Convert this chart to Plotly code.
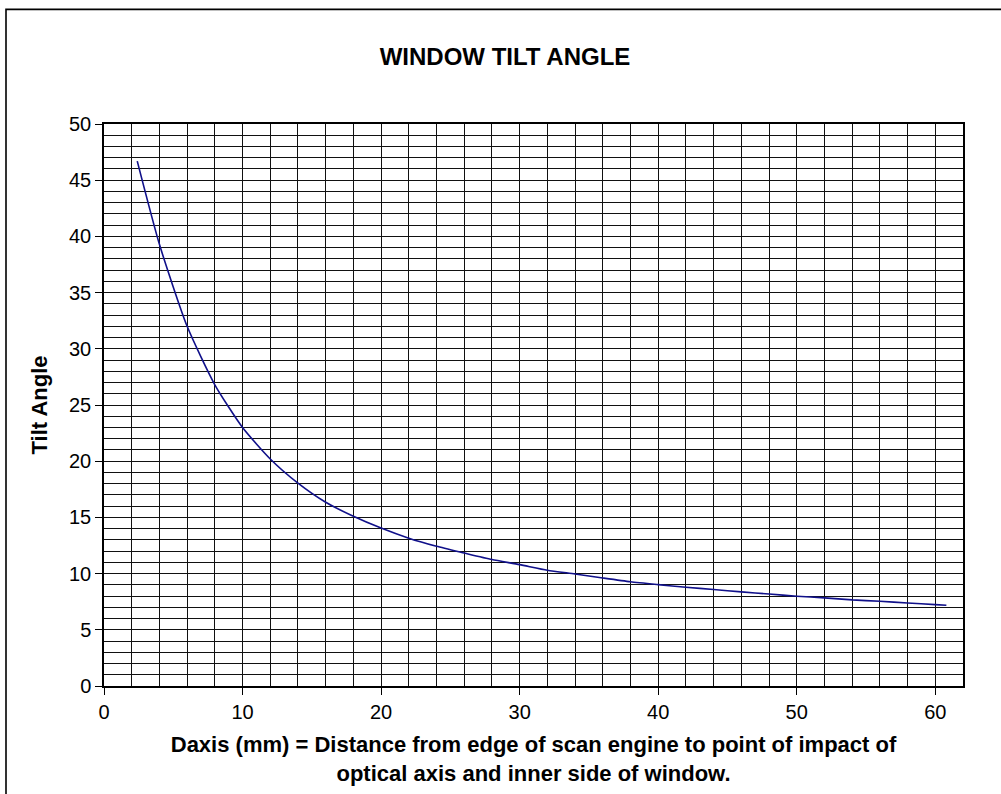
import plotly.graph_objects as go

# Data
daxis_mm = [2.4, 4, 6, 8, 10, 12, 14, 16, 18, 20, 22, 24, 26, 28, 30, 32, 34, 36,
            38, 40, 42, 44, 46, 48, 50, 52, 54, 56, 58, 60, 60.8]
tilt_angle = [46.7, 39.3, 32.0, 26.8, 23.0, 20.2, 18.05, 16.35, 15.1, 14.05, 13.15,
              12.43, 11.83, 11.25, 10.8, 10.3, 9.97, 9.61, 9.27, 9.02, 8.79, 8.58,
              8.37, 8.19, 7.99, 7.84, 7.66, 7.54, 7.39, 7.24, 7.18]

title_text = "<b>WINDOW TILT ANGLE</b>"
x_title = ("<b>Daxis (mm) = Distance from edge of scan engine to point of impact of"
           "<br>optical axis and inner side of window.</b>")
y_title = "<b>Tilt Angle</b>"

FONT = "Liberation Sans, Arial, sans-serif"

fig = go.Figure()
fig.add_trace(go.Scatter(
    x=daxis_mm, y=tilt_angle, mode="lines",
    line=dict(color="#10108a", width=1.6, shape="spline", smoothing=0.6),
    showlegend=False, hoverinfo="x+y",
))

W, H = 1001, 794
L, R, T, B = 104, 38, 124, 106
pw, ph = W - L - R, H - T - B

fig.update_layout(
    width=W, height=H,
    margin=dict(l=L, r=R, t=T, b=B, pad=0),
    paper_bgcolor="white", plot_bgcolor="white",
    font=dict(family=FONT, color="black", size=19),
    title=dict(text=title_text, x=505 / W, xanchor="center",
               y=1 - 57 / H, yanchor="middle",
               font=dict(family=FONT, size=24, color="black")),
    xaxis=dict(
        range=[0, 62], tickmode="linear", tick0=0, dtick=10,
        ticks="outside", ticklen=7, tickwidth=1.2, tickcolor="black",
        showgrid=True, gridcolor="#111111", gridwidth=1.3,
        minor=dict(dtick=2, showgrid=True, gridcolor="#111111", gridwidth=1.3, ticks=""),
        showline=True, linecolor="black", linewidth=1.5, mirror=True,
        zeroline=False,
        tickfont=dict(family=FONT, size=20, color="black"),
        title=dict(text=x_title, standoff=15,
                   font=dict(family=FONT, size=22, color="black")),
    ),
    yaxis=dict(
        range=[0, 50], tickmode="linear", tick0=0, dtick=5,
        ticks="outside", ticklen=7, tickwidth=1.2, tickcolor="black",
        showgrid=True, gridcolor="#111111", gridwidth=1.3,
        minor=dict(dtick=1, showgrid=True, gridcolor="#111111", gridwidth=1.3, ticks=""),
        showline=True, linecolor="black", linewidth=1.5, mirror=True,
        zeroline=False,
        tickfont=dict(family=FONT, size=20, color="black"),
        title=dict(text=y_title, standoff=15,
                   font=dict(family=FONT, size=22, color="black")),
    ),
)

# Outer chart-area border (partially off-canvas on right/bottom, as in the reference)
fig.add_shape(type="rect", xref="paper", yref="paper",
              x0=(6 - L) / pw, x1=(1010 - L) / pw,
              y0=(H - B - 805) / ph, y1=(H - B - 9) / ph,
              line=dict(color="black", width=1.6), fillcolor="rgba(0,0,0,0)",
              layer="below")

fig.write_html("out.html",
               config={"displayModeBar": False},
               post_script="document.body.style.margin='0';document.body.style.overflow='hidden';")
